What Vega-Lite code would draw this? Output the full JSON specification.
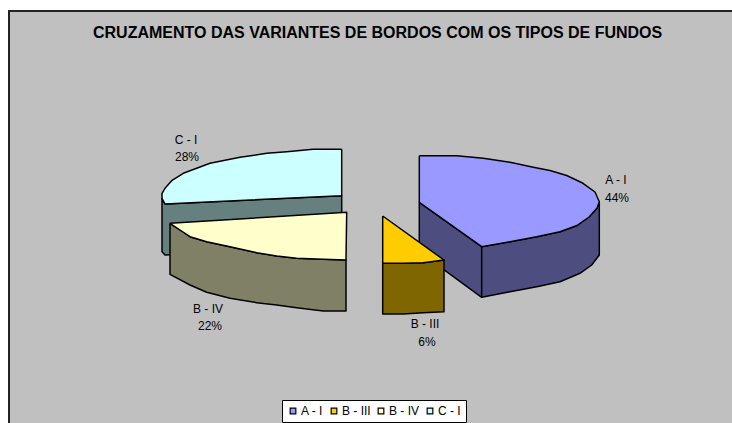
{"$schema":"https://vega.github.io/schema/vega-lite/v6.json","width":732,"height":423,"padding":0,"autosize":{"type":"none"},"background":"#ffffff","view":{"stroke":null},
"title":{"text":"CRUZAMENTO DAS VARIANTES DE BORDOS COM OS TIPOS DE FUNDOS","font":"Liberation Sans","fontSize":16,"fontWeight":"bold","color":"#000000","anchor":"start","baseline":"alphabetic","offset":-38,"dx":93,"dy":16,"zindex":1},
"layer":[
{"data":{"values":[{"x":9,"y":11,"x2":745,"y2":435}]},"mark":{"type":"rect","fill":"#c0c0c0","stroke":"#222222","strokeWidth":2,"clip":false},
"encoding":{"x":{"field":"x","type":"quantitative","scale":{"domain":[0,732]},"axis":null},"x2":{"field":"x2"},"y":{"field":"y","type":"quantitative","scale":{"domain":[423,0]},"axis":null},"y2":{"field":"y2"}}},
{"data":{"values":[
{"part":"c_side","face":"C - I lado","x":162,"y":198.3},{"part":"c_side","face":"C - I lado","x":165,"y":204},{"part":"c_side","face":"C - I lado","x":341.7,"y":195.7},{"part":"c_side","face":"C - I lado","x":341.7,"y":246.7},{"part":"c_side","face":"C - I lado","x":165,"y":255},{"part":"c_side","face":"C - I lado","x":162,"y":251.7},{"part":"c_side","face":"C - I lado","x":162,"y":198.3},
{"part":"c_top","face":"C - I","x":341.7,"y":149.3},{"part":"c_top","face":"C - I","x":313,"y":149.3},{"part":"c_top","face":"C - I","x":286.7,"y":151.7},{"part":"c_top","face":"C - I","x":266.7,"y":153.3},{"part":"c_top","face":"C - I","x":240,"y":157.3},{"part":"c_top","face":"C - I","x":210,"y":163.3},{"part":"c_top","face":"C - I","x":183.3,"y":173.3},{"part":"c_top","face":"C - I","x":171.7,"y":180.7},{"part":"c_top","face":"C - I","x":165,"y":188.3},{"part":"c_top","face":"C - I","x":162,"y":193.3},{"part":"c_top","face":"C - I","x":162,"y":198.3},{"part":"c_top","face":"C - I","x":165,"y":204},{"part":"c_top","face":"C - I","x":341.7,"y":195.7},{"part":"c_top","face":"C - I","x":341.7,"y":149.3},
{"part":"b4_side","face":"B - IV lado","x":170,"y":223.3},{"part":"b4_side","face":"B - IV lado","x":180,"y":230},{"part":"b4_side","face":"B - IV lado","x":190,"y":236.7},{"part":"b4_side","face":"B - IV lado","x":206.7,"y":241.7},{"part":"b4_side","face":"B - IV lado","x":230,"y":246.7},{"part":"b4_side","face":"B - IV lado","x":256.7,"y":252.7},{"part":"b4_side","face":"B - IV lado","x":276.7,"y":256},{"part":"b4_side","face":"B - IV lado","x":296.7,"y":258.3},{"part":"b4_side","face":"B - IV lado","x":323.3,"y":259.3},{"part":"b4_side","face":"B - IV lado","x":346,"y":260},{"part":"b4_side","face":"B - IV lado","x":346,"y":311},{"part":"b4_side","face":"B - IV lado","x":323.3,"y":311},{"part":"b4_side","face":"B - IV lado","x":296.7,"y":307.7},{"part":"b4_side","face":"B - IV lado","x":276.7,"y":305},{"part":"b4_side","face":"B - IV lado","x":256.7,"y":302.7},{"part":"b4_side","face":"B - IV lado","x":230,"y":298.3},{"part":"b4_side","face":"B - IV lado","x":206.7,"y":292.3},{"part":"b4_side","face":"B - IV lado","x":190,"y":285},{"part":"b4_side","face":"B - IV lado","x":170,"y":274.3},{"part":"b4_side","face":"B - IV lado","x":170,"y":223.3},
{"part":"b4_top","face":"B - IV","x":170,"y":223.3},{"part":"b4_top","face":"B - IV","x":346.7,"y":212.3},{"part":"b4_top","face":"B - IV","x":346,"y":260},{"part":"b4_top","face":"B - IV","x":323.3,"y":259.3},{"part":"b4_top","face":"B - IV","x":296.7,"y":258.3},{"part":"b4_top","face":"B - IV","x":276.7,"y":256},{"part":"b4_top","face":"B - IV","x":256.7,"y":252.7},{"part":"b4_top","face":"B - IV","x":230,"y":246.7},{"part":"b4_top","face":"B - IV","x":206.7,"y":241.7},{"part":"b4_top","face":"B - IV","x":190,"y":236.7},{"part":"b4_top","face":"B - IV","x":180,"y":230},{"part":"b4_top","face":"B - IV","x":170,"y":223.3},
{"part":"a_inner","face":"A - I lado","x":419.3,"y":202.3},{"part":"a_inner","face":"A - I lado","x":481.7,"y":246.7},{"part":"a_inner","face":"A - I lado","x":481.7,"y":297.3},{"part":"a_inner","face":"A - I lado","x":419.3,"y":251.7},{"part":"a_inner","face":"A - I lado","x":419.3,"y":202.3},
{"part":"a_side","face":"A - I lado","x":481.7,"y":246.7},{"part":"a_side","face":"A - I lado","x":510,"y":241.7},{"part":"a_side","face":"A - I lado","x":536.7,"y":236.7},{"part":"a_side","face":"A - I lado","x":560,"y":231.7},{"part":"a_side","face":"A - I lado","x":577,"y":225.5},{"part":"a_side","face":"A - I lado","x":589,"y":217},{"part":"a_side","face":"A - I lado","x":597,"y":208.3},{"part":"a_side","face":"A - I lado","x":599.3,"y":201.7},{"part":"a_side","face":"A - I lado","x":599.3,"y":255},{"part":"a_side","face":"A - I lado","x":591.7,"y":265},{"part":"a_side","face":"A - I lado","x":580,"y":273.3},{"part":"a_side","face":"A - I lado","x":560,"y":281.7},{"part":"a_side","face":"A - I lado","x":536.7,"y":286.7},{"part":"a_side","face":"A - I lado","x":510,"y":291.7},{"part":"a_side","face":"A - I lado","x":481.7,"y":297.3},{"part":"a_side","face":"A - I lado","x":481.7,"y":246.7},
{"part":"a_top","face":"A - I","x":419.3,"y":155.7},{"part":"a_top","face":"A - I","x":456.7,"y":155.7},{"part":"a_top","face":"A - I","x":483.3,"y":158.3},{"part":"a_top","face":"A - I","x":510,"y":162.3},{"part":"a_top","face":"A - I","x":533.3,"y":167.3},{"part":"a_top","face":"A - I","x":550,"y":170.5},{"part":"a_top","face":"A - I","x":566.7,"y":175.5},{"part":"a_top","face":"A - I","x":583,"y":183.3},{"part":"a_top","face":"A - I","x":595,"y":192},{"part":"a_top","face":"A - I","x":599.3,"y":201.7},{"part":"a_top","face":"A - I","x":597,"y":208.3},{"part":"a_top","face":"A - I","x":589,"y":217},{"part":"a_top","face":"A - I","x":577,"y":225.5},{"part":"a_top","face":"A - I","x":560,"y":231.7},{"part":"a_top","face":"A - I","x":536.7,"y":236.7},{"part":"a_top","face":"A - I","x":510,"y":241.7},{"part":"a_top","face":"A - I","x":481.7,"y":246.7},{"part":"a_top","face":"A - I","x":419.3,"y":202.3},{"part":"a_top","face":"A - I","x":419.3,"y":155.7},
{"part":"b3_side","face":"B - III lado","x":382.7,"y":263.3},{"part":"b3_side","face":"B - III lado","x":403.3,"y":263.3},{"part":"b3_side","face":"B - III lado","x":423.3,"y":262.7},{"part":"b3_side","face":"B - III lado","x":444,"y":260},{"part":"b3_side","face":"B - III lado","x":444,"y":311.7},{"part":"b3_side","face":"B - III lado","x":423.3,"y":312.7},{"part":"b3_side","face":"B - III lado","x":403.3,"y":314},{"part":"b3_side","face":"B - III lado","x":382.7,"y":314},{"part":"b3_side","face":"B - III lado","x":382.7,"y":263.3},
{"part":"b3_top","face":"B - III","x":382.7,"y":216},{"part":"b3_top","face":"B - III","x":444,"y":260},{"part":"b3_top","face":"B - III","x":423.3,"y":262.7},{"part":"b3_top","face":"B - III","x":403.3,"y":263.3},{"part":"b3_top","face":"B - III","x":382.7,"y":263.3},{"part":"b3_top","face":"B - III","x":382.7,"y":216}
]},
"transform":[{"window":[{"op":"row_number","as":"seq"}]}],
"mark":{"type":"line","stroke":"#000000","strokeWidth":1.5,"strokeJoin":"round","interpolate":"linear"},
"encoding":{"x":{"field":"x","type":"quantitative","scale":{"domain":[0,732]},"axis":null},"y":{"field":"y","type":"quantitative","scale":{"domain":[423,0]},"axis":null},"order":{"field":"seq","type":"quantitative"},"detail":{"field":"part"},
"fill":{"field":"face","type":"nominal","sort":null,"scale":{"domain":["A - I","B - III","B - IV","C - I","A - I lado","B - III lado","B - IV lado","C - I lado"],"range":["#9999ff","#ffcc00","#ffffcc","#ccffff","#4d4d80","#806600","#808066","#668080"]},
"legend":{"values":["A - I","B - III","B - IV","C - I"],"title":null,"orient":"none","legendX":282,"legendY":400,"direction":"horizontal","columns":4,"columnPadding":4,"fillColor":"#ffffff","strokeColor":"#000000","padding":5,"symbolType":"square","symbolSize":32,"symbolStrokeColor":"#000000","symbolStrokeWidth":1.2,"labelFont":"Liberation Sans","labelFontSize":12,"labelColor":"#000000","labelOffset":2}}}},
{"data":{"values":[
{"t":"A - I","x":616,"y":180},{"t":"44%","x":617,"y":198},{"t":"B - III","x":425,"y":324},{"t":"6%","x":427,"y":342},{"t":"B - IV","x":208,"y":309},{"t":"22%","x":210,"y":326},{"t":"C - I","x":186,"y":140},{"t":"28%","x":187,"y":157}
]},
"mark":{"type":"text","font":"Liberation Sans","fontSize":12,"color":"#000000","align":"center","baseline":"middle"},
"encoding":{"x":{"field":"x","type":"quantitative","scale":{"domain":[0,732]},"axis":null},"y":{"field":"y","type":"quantitative","scale":{"domain":[423,0]},"axis":null},"text":{"field":"t"}}}
]}
